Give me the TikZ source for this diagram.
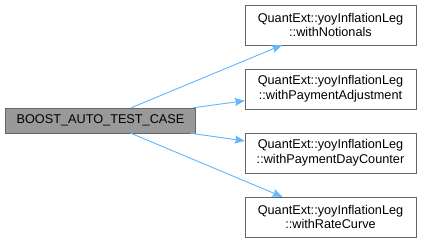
\documentclass[tikz,border=0pt]{standalone}
\usepackage{fontspec}
\setmainfont{Liberation Sans}
\usepackage{tikz}
\usetikzlibrary{arrows,arrows.meta,positioning}

\definecolor{edgeblue}{HTML}{63B8FF}
\definecolor{boxgray}{HTML}{666666}
\definecolor{rootfill}{HTML}{999999}

\tikzset{
  fn/.style={draw=boxgray, fill=white, minimum width=171pt, minimum height=40pt,
    inner sep=0pt, align=center, font=\fontsize{12.7}{14.6}\selectfont},
  root/.style={fn, fill=rootfill, minimum width=190pt, minimum height=25pt}
}

\begin{document}
\begin{tikzpicture}[x=1pt,y=-1pt,->,>={Stealth[length=10pt,width=8pt,inset=1.5pt]},auto]
      \useasboundingbox (0,0) rectangle (423,243);

      \node[root] (test) at (100.5,120.5) {BOOST\_AUTO\_TEST\_CASE};

      \node[fn] (notionals) at (330.5,25) {QuantExt::yoyInflationLeg\\::withNotionals};
      \node[fn] (payadj) at (330.5,89) {QuantExt::yoyInflationLeg\\::withPaymentAdjustment};
      \node[fn] (paydc) at (330.5,153) {QuantExt::yoyInflationLeg\\::withPaymentDayCounter};
      \node[fn] (ratecurve) at (330.5,217) {QuantExt::yoyInflationLeg\\::withRateCurve};

      \path[draw=edgeblue, every edge/.style={draw=edgeblue, fill=edgeblue, line width=0.9pt}]
      (test) edge (notionals)
      edge (payadj)
      edge (paydc)
      edge (ratecurve);

  \end{tikzpicture}
\end{document}
